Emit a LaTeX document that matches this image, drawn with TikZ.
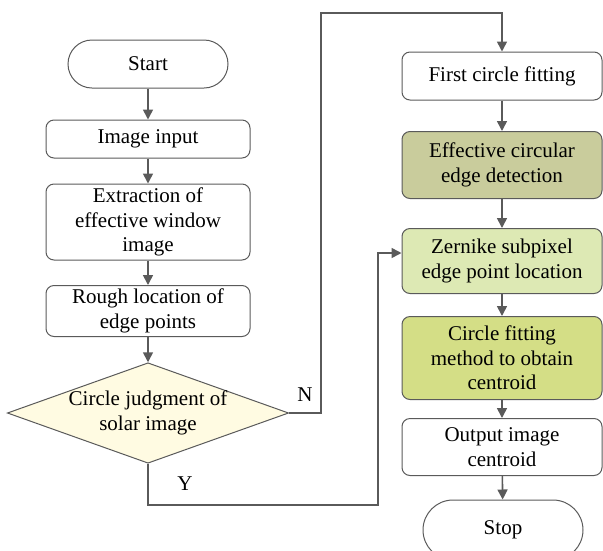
\documentclass[tikz,border=0pt]{standalone}
\usepackage{fontspec}
\setmainfont{Liberation Serif}
\usetikzlibrary{shapes.geometric,arrows.meta}
\definecolor{linegray}{HTML}{5A5A5A}
\definecolor{olivebox}{HTML}{C9CC9C}
\definecolor{zernbox}{HTML}{DDE9B4}
\definecolor{fitbox}{HTML}{D4DE86}
\definecolor{diamfill}{HTML}{FFFBE2}
\tikzset{
  box/.style={draw=linegray, line width=1pt, rounded corners=8pt, align=center,
    font=\fontsize{21}{24.5}\selectfont, inner sep=2pt},
  term/.style={box, rounded corners=24pt},
  decision/.style={diamond, draw=linegray, line width=1pt, align=center,
    font=\fontsize{21}{24.5}\selectfont, inner sep=0pt, fill=diamfill},
  flow/.style={draw=linegray, line width=1.6pt, -{Triangle[length=10pt,width=10pt]}},
  plain/.style={draw=linegray, line width=1.6pt},
  lbl/.style={font=\fontsize{21}{24.5}\selectfont}
}
\begin{document}
\begin{tikzpicture}[x=1pt,y=-1pt]
\useasboundingbox (0,0) rectangle (603,550);
% left column
\node[term, minimum width=160pt, minimum height=48pt] (start) at (148,64) {Start};
\node[box, minimum width=204pt, minimum height=38pt] (input) at (148,139) {Image input};
\node[box, minimum width=204pt, minimum height=76pt] (extract) at (148,222) {Extraction of\\effective window\\image};
\node[box, minimum width=204pt, minimum height=51pt] (rough) at (148,311) {Rough location of\\edge points};
\node[decision, shape aspect=2.8, minimum width=277pt, minimum height=99pt] (judge) at (148,413) {Circle judgment of\\solar image};
% right column
\node[box, minimum width=200pt, minimum height=48pt] (first) at (502,76) {First circle fitting};
\node[box, fill=olivebox, minimum width=200pt, minimum height=67pt] (effective) at (502,165) {Effective circular\\edge detection};
\node[box, fill=zernbox, minimum width=200pt, minimum height=65pt] (zernike) at (502,261) {Zernike subpixel\\edge point location};
\node[box, fill=fitbox, minimum width=200pt, minimum height=83pt] (fit) at (502,358) {Circle fitting\\method to obtain\\centroid};
\node[box, minimum width=200pt, minimum height=57pt] (output) at (502,447) {Output image\\centroid};
\node[term, rounded corners=30pt, minimum width=160pt, minimum height=60pt] (stop) at (503,530) {Stop};
% connectors
\draw[flow] (start) -- (input);
\draw[flow] (input) -- (extract);
\draw[flow] (extract) -- (rough);
\draw[flow] (rough) -- (judge);
\draw[flow] (first) -- (effective);
\draw[flow] (effective) -- (zernike);
\draw[flow] (zernike) -- (fit);
\draw[flow] (fit) -- (output);
\draw[flow] (output) -- (stop);
% N branch
\coordinate (n1) at (321,413);
\coordinate (n2) at (321,13);
\coordinate (n3) at (502,13);
\draw[flow] (judge.east) -- (n1) -- (n2) -- (n3) -- (first.north);
\node[lbl] (nlab) at (305,395) {N};
% Y branch
\coordinate (y1) at (148,505);
\coordinate (y2) at (378,505);
\coordinate (y3) at (378,253);
\draw[flow] (judge.south) -- (y1) -- (y2) -- (y3) -- (zernike.west |- y3);
\node[lbl] (ylab) at (185,484) {Y};
\end{tikzpicture}
\end{document}
